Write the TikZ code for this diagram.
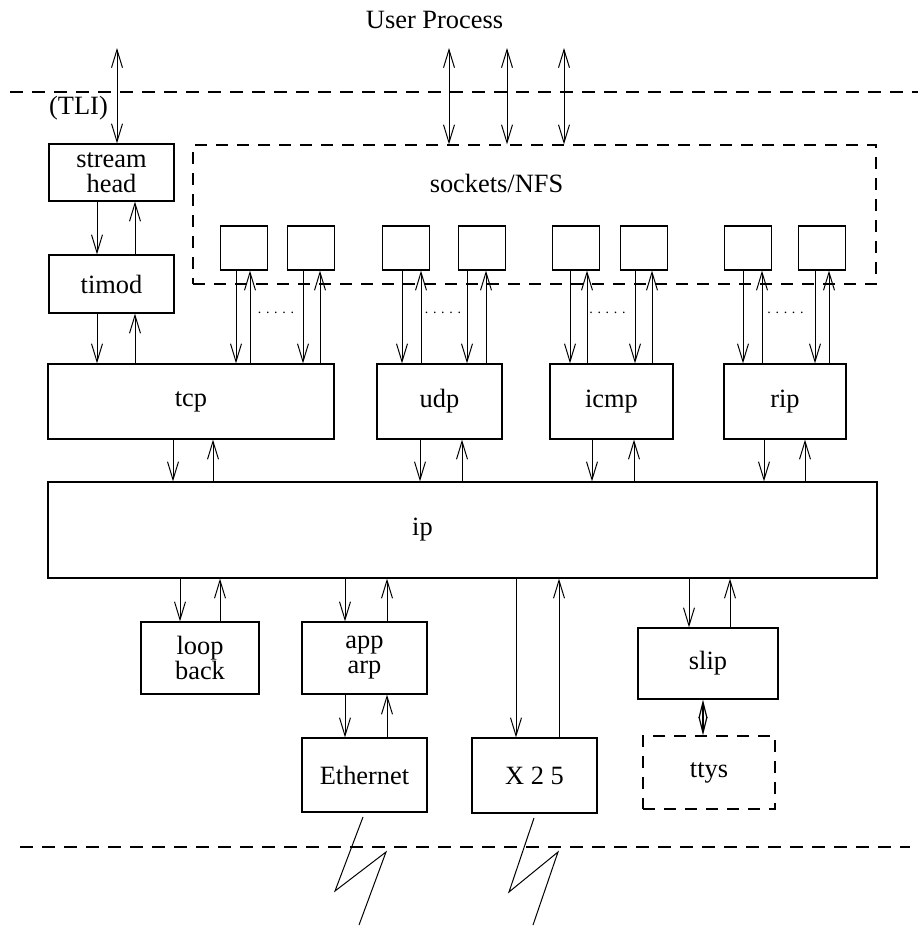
\documentclass[tikz,border=0pt]{standalone}
\usepackage{fontspec}
\setmainfont{Liberation Serif}
\usetikzlibrary{arrows.meta}

\begin{document}
\begin{tikzpicture}[
  x=0.5pt, y=-0.5pt,
  box/.style={draw, line width=0.6pt, inner sep=0pt, align=center, font=\fontsize{13.2}{12.5}\selectfont},
  dbox/.style={box, dash pattern=on 6pt off 4.5pt},
  sbox/.style={box, minimum width=23.5pt, minimum height=22pt},
  txt/.style={font=\fontsize{13.2}{12.5}\selectfont, inner sep=0pt},
  arr/.style={-{Straight Barb[length=9pt,width=5.5pt]}, line width=0.5pt},
  darr/.style={{Straight Barb[length=9pt,width=5.5pt]}-{Straight Barb[length=9pt,width=5.5pt]}, line width=0.5pt},
  dia/.style={{Straight Barb[length=8pt,width=4pt]}-{Straight Barb[length=8pt,width=4pt]}, line width=0.6pt},
  sep/.style={line width=0.6pt, dash pattern=on 6.5pt off 4.5pt}]
\useasboundingbox (0,0) rectangle (918,926);

% kernel boundaries
\draw[sep] (10,92) -- (918,92);
\draw[sep] (20,847) -- (910,847);

\node[txt] (user) at (434.5,20) {User Process};
\node[txt] (tli) at (78.5,108) {(TLI)};

% streams side
\node[box, minimum width=62.5pt, minimum height=28.5pt] (sh) at (111.5,172.5) {stream\\head};
\node[box, minimum width=62.5pt, minimum height=29pt] (tm) at (111.5,284) {timod};

% sockets
\node[dbox, minimum width=341.5pt, minimum height=69.5pt] (sock) at (534.5,214.5) {};
\node[txt] (nfs) at (496.5,183) {sockets/NFS};
\foreach \n/\x in {b1/244, b2/311, b3/406, b4/482, b5/576, b6/644, b7/748, b8/822}
  \node[sbox] (\n) at (\x,248) {};
\foreach \x [count=\i] in {276,443,607.5,785.5}
  \node[inner sep=0pt, font=\fontsize{7}{7}\selectfont] (dots\i) at (\x,313) {. . . . .};

% transport
\node[box, minimum width=143pt, minimum height=37.5pt] (tcp) at (191,401.5) {tcp};
\node[box, minimum width=62.5pt, minimum height=37.5pt] (udp) at (439.5,401.5) {udp};
\node[box, minimum width=61.5pt, minimum height=37.5pt] (icmp) at (611.5,401.5) {icmp};
\node[box, minimum width=61pt, minimum height=37.5pt] (rip) at (785,401.5) {rip};

\node[box, minimum width=414.5pt, minimum height=48pt, label={[txt, xshift=-20pt]center:ip}] (ip) at (462.5,530) {};

% links
\node[box, minimum width=59pt, minimum height=36pt] (lb) at (200,658) {loop\\back};
\node[box, minimum width=62.5pt, minimum height=36pt] (arp) at (364.5,658) {app\\arp};
\node[box, minimum width=62.5pt, minimum height=37pt] (eth) at (364.5,775) {Ethernet};
\node[box, minimum width=62.5pt, minimum height=37.5pt] (x25) at (534.5,775.5) {X 2 5};
\node[box, minimum width=70pt, minimum height=35.5pt] (slip) at (708,663.5) {slip};
\node[dbox, minimum width=66pt, minimum height=36.5pt] (ttys) at (709,772.5) {ttys};

% user side arrows
\coordinate (tlitop) at (117,48);
\draw[darr] (tlitop) -- (sh.north -| tlitop);
\foreach \x [count=\i] in {449,507,564} {
  \coordinate (u\i) at (\x,48);
  \draw[darr] (u\i) -- (sock.north -| u\i);
}

% down/up pairs
\foreach \a/\b/\d/\u in {sh/tm/97/135, tm/tcp/97/135,
    b1/tcp/236/250, b2/tcp/303/320, b3/udp/402/421, b4/udp/467/486,
    b5/icmp/570/587, b6/icmp/635/652, b7/rip/743/762, b8/rip/815/829,
    tcp/ip/173/213, udp/ip/420/462, icmp/ip/592/634, rip/ip/764/805,
    ip/lb/180/220, ip/arp/345/387, arp/eth/345/387, ip/x25/516/559, ip/slip/689/730} {
  \draw[arr] (\a.south -| \d,0) -- (\b.north -| \d,0);
  \draw[arr] (\b.north -| \u,0) -- (\a.south -| \u,0);
}
\draw[dia] (slip.south -| 703,0) -- (ttys.north -| 703,0);

% wires
\draw[line width=0.5pt] (363,817) -- (335,891) -- (386,852) -- (359,925);
\draw[line width=0.5pt] (534,818) -- (509,892) -- (558,852) -- (533,925);
\end{tikzpicture}
\end{document}
